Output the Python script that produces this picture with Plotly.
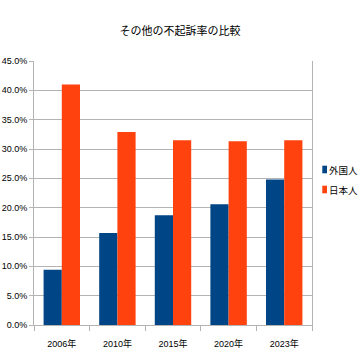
import plotly.graph_objects as go

categories = ["2006年", "2010年", "2015年", "2020年", "2023年"]
foreign = [0.094, 0.157, 0.187, 0.206, 0.248]
japanese = [0.410, 0.329, 0.315, 0.313, 0.315]
series_names = ["外国人", "日本人"]
series_colors = ["#004586", "#ff420e"]
title_text = "その他の不起訴率の比較"

FONT = "Liberation Sans, Noto Sans CJK JP, sans-serif"
CJK = "Noto Sans CJK JP, sans-serif"

W, H = 360, 360
L, R, T, B = 34, 48, 61, 35
PW, PH = W - L - R, H - T - B


def px_x(x):
    return (x - L) / PW


def px_y(y):
    return (H - B - y) / PH


fig = go.Figure()
for vals, name, col in zip([foreign, japanese], series_names, series_colors):
    fig.add_trace(go.Bar(x=categories, y=vals, name=name, showlegend=False,
                         hoverinfo="skip",
                         marker=dict(color=col, line=dict(width=0))))

# legend: small swatches + labels
legend_rows = [169.5, 189.5]
for name, col, yc in zip(series_names, series_colors, legend_rows):
    fig.add_shape(type="rect", xref="paper", yref="paper",
                  x0=px_x(322.3), x1=px_x(327), y0=px_y(yc + 3.8), y1=px_y(yc - 3.8),
                  fillcolor=col, line=dict(width=0))
    fig.add_annotation(xref="paper", yref="paper", x=px_x(327.5), y=px_y(yc),
                       xanchor="left", yanchor="middle", showarrow=False,
                       text=name, borderpad=0,
                       font=dict(family=CJK, size=9.5, color="#000"))

fig.update_layout(
    width=W, height=H,
    margin=dict(l=L, r=R, t=T, b=B, autoexpand=False),
    paper_bgcolor="white", plot_bgcolor="white",
    title=dict(text=title_text, x=180 / W, xanchor="center", y=1 - 31 / H, yanchor="middle",
               font=dict(family=CJK, size=11, color="#000")),
    barmode="group", bargap=0.345, bargroupgap=0,
    font=dict(family=FONT, size=9, color="#000"),
    showlegend=False,
)
fig.update_xaxes(showline=True, linecolor="#b3b3b3", linewidth=1, automargin=False,
                 ticks="outside", tickson="boundaries", ticklen=5, tickcolor="#b3b3b3",
                 ticklabelstandoff=10,
                 showgrid=False, tickfont=dict(family=FONT, size=9, color="#000"))
fig.update_yaxes(range=[0, 0.45], dtick=0.05, tickformat=".1%", automargin=False,
                 showline=True, mirror=True, linecolor="#b3b3b3", linewidth=1,
                 ticks="outside", ticklen=4, tickcolor="#b3b3b3",
                 showgrid=True, gridcolor="#b3b3b3", gridwidth=1, zeroline=False,
                 tickfont=dict(family=FONT, size=9, color="#000"))

fig.write_html("out.html", config={"displayModeBar": False},
               post_script="document.body.style.margin='0';")
